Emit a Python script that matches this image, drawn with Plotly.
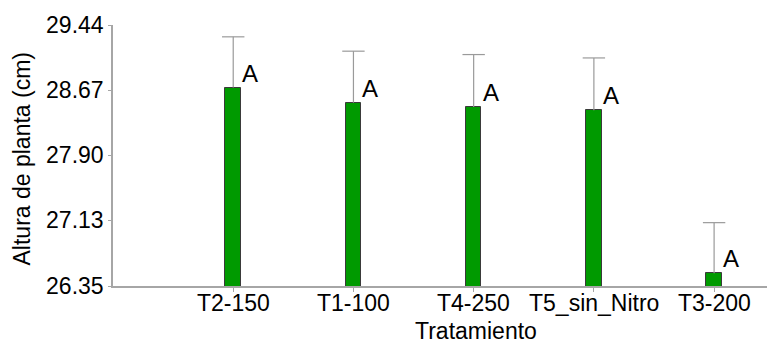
import plotly.graph_objects as go

# Plant height by treatment (mean and upper standard error)
CATEGORIES = ["T2-150", "T1-100", "T4-250", "T5_sin_Nitro", "T3-200"]
MEANS = [28.70, 28.52, 28.47, 28.43, 26.50]
ERRORS = [0.60, 0.61, 0.62, 0.62, 0.60]
GROUPS = ["A", "A", "A", "A", "A"]

Y_TICKS = [26.35, 27.13, 27.90, 28.67, 29.44]
Y_TICK_TEXT = ["26.35", "27.13", "27.90", "28.67", "29.44"]

FONT = "Liberation Sans, Arial, sans-serif"
AXIS_GREY = "#a6a6a6"
ERR_GREY = "#9a9a9a"

fig = go.Figure()

fig.add_trace(go.Bar(
    x=CATEGORIES,
    y=MEANS,
    width=0.13,
    marker=dict(color="#009a00", line=dict(color="#3a3a3a", width=1)),
    error_y=dict(type="data", symmetric=False, array=ERRORS,
                 arrayminus=[0] * len(ERRORS), width=0,
                 color=ERR_GREY, thickness=1.2),
    showlegend=False,
))

# caps on top of the whiskers
fig.add_trace(go.Scatter(
    x=CATEGORIES,
    y=[m + e for m, e in zip(MEANS, ERRORS)],
    mode="markers",
    marker=dict(symbol="line-ew", size=16, color=ERR_GREY,
                line=dict(color=ERR_GREY, width=1.2)),
    showlegend=False,
    hoverinfo="skip",
))

# significance letters beside each bar top
for cat, m, g in zip(CATEGORIES, MEANS, GROUPS):
    fig.add_annotation(x=cat, y=m, text=g, showarrow=False,
                       xanchor="left", yanchor="bottom", xshift=7, yshift=-1,
                       font=dict(family=FONT, size=24, color="#000"))

# category labels, set a little closer to the axis than default tick labels
for cat in CATEGORIES:
    fig.add_annotation(x=cat, xref="x", yref="paper", y=0, text=cat,
                       showarrow=False, xanchor="center", yanchor="middle",
                       yshift=-17,
                       font=dict(family=FONT, size=23, color="#000"))

# axis titles
fig.add_annotation(xref="paper", yref="paper", x=0, y=0.5,
                   text="Altura de planta (cm)", textangle=-90, showarrow=False,
                   xanchor="right", yanchor="middle", xshift=-77, yshift=-4,
                   font=dict(family=FONT, size=23, color="#000"))
fig.add_annotation(xref="x", yref="paper", x=CATEGORIES[2], y=0,
                   text="Tratamiento", showarrow=False,
                   xanchor="center", yanchor="middle", xshift=2, yshift=-45,
                   font=dict(family=FONT, size=23, color="#000"))

fig.update_layout(
    width=767, height=343,
    margin=dict(l=113, r=0, t=25, b=57),
    paper_bgcolor="white", plot_bgcolor="white",
    font=dict(family=FONT, size=23, color="#000"),
    bargap=0,
)
fig.update_xaxes(
    type="category", range=[-1, 4.44],
    showline=True, linecolor=AXIS_GREY, linewidth=1.5,
    ticks="outside", ticklen=4, tickcolor=AXIS_GREY,
    showticklabels=False,
    showgrid=False, zeroline=False,
)
fig.update_yaxes(
    range=[Y_TICKS[0], Y_TICKS[-1]],
    tickvals=Y_TICKS, ticktext=Y_TICK_TEXT,
    showline=True, linecolor=AXIS_GREY, linewidth=1.5,
    ticks="outside", ticklen=3, tickcolor=AXIS_GREY,
    showgrid=False, zeroline=False,
    tickfont=dict(family=FONT, size=23, color="#000"),
)

fig.write_html("out.html")
